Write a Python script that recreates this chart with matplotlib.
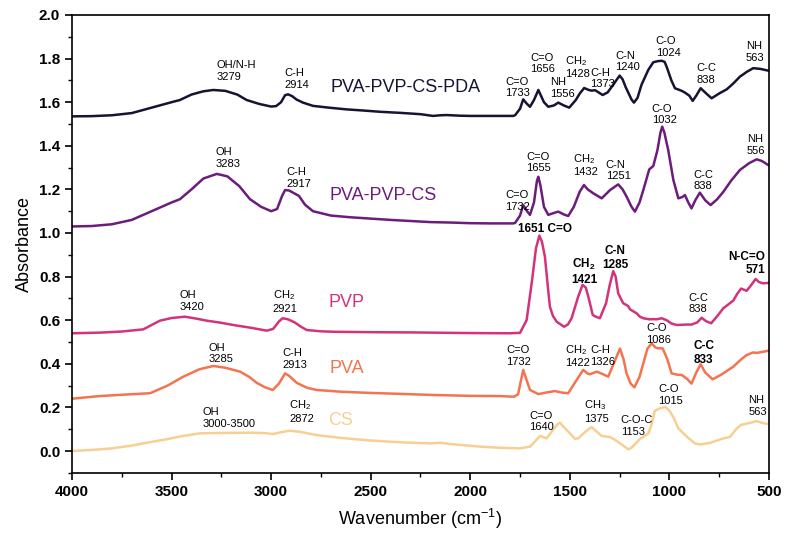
import matplotlib
matplotlib.use('Agg')
import matplotlib.pyplot as plt
from matplotlib.ticker import MultipleLocator, FormatStrFormatter

plt.rcParams['font.family'] = ['Liberation Sans', 'DejaVu Sans']
plt.rcParams['mathtext.fontset'] = 'custom'
plt.rcParams['mathtext.rm'] = 'Liberation Sans'
plt.rcParams['mathtext.it'] = 'Liberation Sans:italic'
plt.rcParams['mathtext.bf'] = 'Liberation Sans:bold'

# ---------------- data (wavenumber cm-1, absorbance) ----------------
wn_pda = [4000, 3900, 3800, 3700, 3600, 3500, 3458, 3400, 3340, 3290, 3230, 3170, 3123, 3060,
          3000, 2975, 2950, 2930, 2915, 2895, 2872, 2840, 2789, 2700, 2621, 2540, 2453, 2350,
          2250, 2187, 2150, 2118, 2050, 2000, 1900, 1785, 1775, 1750, 1734, 1718, 1700, 1680,
          1658, 1630, 1608, 1580, 1558, 1530, 1503, 1470, 1450, 1428, 1405, 1390, 1373, 1335,
          1310, 1290, 1250, 1235, 1220, 1190, 1178, 1160, 1140, 1106, 1081, 1060, 1039, 1024,
          1014, 990, 972, 938, 922, 900, 883, 865, 843, 815, 788, 750, 712, 680, 646, 610, 579,
          545, 505, 500]
abs_pda = [1.535, 1.536, 1.540, 1.550, 1.575, 1.600, 1.610, 1.635, 1.650, 1.656, 1.652, 1.635,
           1.610, 1.592, 1.580, 1.582, 1.600, 1.632, 1.636, 1.628, 1.612, 1.598, 1.583, 1.574,
           1.567, 1.562, 1.556, 1.551, 1.545, 1.537, 1.540, 1.541, 1.538, 1.537, 1.537, 1.537,
           1.540, 1.570, 1.613, 1.595, 1.579, 1.610, 1.656, 1.600, 1.579, 1.585, 1.598, 1.585,
           1.575, 1.610, 1.640, 1.665, 1.656, 1.653, 1.655, 1.633, 1.645, 1.670, 1.722, 1.705,
           1.670, 1.612, 1.598, 1.620, 1.680, 1.748, 1.783, 1.788, 1.790, 1.785, 1.763, 1.700,
           1.664, 1.652, 1.644, 1.630, 1.606, 1.630, 1.664, 1.640, 1.618, 1.640, 1.659, 1.685,
           1.717, 1.740, 1.756, 1.753, 1.745, 1.744]

wn_ppc = [4000, 3900, 3800, 3700, 3600, 3500, 3458, 3400, 3340, 3273, 3220, 3160, 3106, 3050,
          3000, 2970, 2945, 2930, 2910, 2880, 2860, 2830, 2790, 2700, 2600, 2500, 2400, 2300,
          2200, 2100, 2000, 1900, 1785, 1775, 1750, 1734, 1715, 1700, 1680, 1665, 1658, 1648,
          1630, 1608, 1580, 1558, 1530, 1508, 1480, 1450, 1429, 1410, 1382, 1340, 1298, 1257,
          1235, 1215, 1190, 1173, 1150, 1131, 1101, 1081, 1060, 1045, 1036, 1025, 1006, 980,
          955, 935, 922, 905, 889, 870, 847, 820, 793, 760, 729, 690, 646, 600, 562, 535, 504, 500]
abs_ppc = [1.030, 1.032, 1.040, 1.060, 1.100, 1.140, 1.155, 1.200, 1.250, 1.271, 1.260, 1.215,
           1.155, 1.120, 1.100, 1.110, 1.170, 1.197, 1.195, 1.180, 1.170, 1.130, 1.100, 1.080,
           1.072, 1.066, 1.060, 1.055, 1.050, 1.048, 1.045, 1.044, 1.044, 1.046, 1.080, 1.128,
           1.100, 1.083, 1.140, 1.240, 1.258, 1.220, 1.120, 1.083, 1.092, 1.098, 1.085, 1.078,
           1.120, 1.190, 1.220, 1.200, 1.182, 1.159, 1.197, 1.223, 1.200, 1.167, 1.120, 1.098,
           1.140, 1.197, 1.292, 1.307, 1.380, 1.460, 1.488, 1.460, 1.381, 1.243, 1.159, 1.165,
           1.174, 1.140, 1.113, 1.150, 1.185, 1.150, 1.128, 1.155, 1.189, 1.240, 1.289, 1.320,
           1.338, 1.330, 1.312, 1.310]

wn_pvp = [4000, 3860, 3750, 3642, 3558, 3500, 3433, 3380, 3324, 3250, 3190, 3100, 3022, 2990,
          2960, 2942, 2915, 2880, 2850, 2821, 2750, 2688, 2500, 2300, 2100, 2000, 1800, 1750,
          1717, 1690, 1670, 1653, 1640, 1625, 1610, 1600, 1585, 1566, 1529, 1510, 1491, 1458,
          1436, 1420, 1407, 1385, 1369, 1349, 1318, 1300, 1282, 1270, 1257, 1232, 1207, 1198,
          1165, 1148, 1131, 1100, 1081, 1064, 1039, 1014, 990, 964, 913, 889, 860, 838, 815,
          790, 755, 729, 679, 660, 640, 612, 590, 567, 550, 529, 504, 500]
abs_pvp = [0.540, 0.543, 0.548, 0.558, 0.598, 0.610, 0.616, 0.608, 0.598, 0.588, 0.578, 0.565,
           0.552, 0.560, 0.595, 0.609, 0.604, 0.589, 0.570, 0.555, 0.549, 0.547, 0.545, 0.544,
           0.542, 0.541, 0.540, 0.542, 0.600, 0.780, 0.930, 0.988, 0.960, 0.891, 0.750, 0.662,
           0.620, 0.593, 0.570, 0.580, 0.609, 0.708, 0.762, 0.750, 0.708, 0.624, 0.616, 0.609,
           0.678, 0.760, 0.825, 0.800, 0.723, 0.678, 0.665, 0.650, 0.632, 0.616, 0.609, 0.604,
           0.605, 0.604, 0.609, 0.600, 0.585, 0.578, 0.580, 0.580, 0.590, 0.611, 0.595, 0.586,
           0.624, 0.655, 0.690, 0.720, 0.745, 0.735, 0.760, 0.789, 0.775, 0.769, 0.771, 0.770]

wn_pva = [4000, 3860, 3750, 3608, 3520, 3441, 3360, 3290, 3230, 3156, 3110, 3073, 3030, 2992,
          2960, 2930, 2910, 2872, 2820, 2771, 2650, 2520, 2350, 2186, 2000, 1851, 1780, 1760,
          1734, 1715, 1700, 1658, 1620, 1575, 1540, 1508, 1470, 1433, 1410, 1399, 1365, 1340,
          1307, 1280, 1248, 1230, 1215, 1195, 1176, 1150, 1131, 1110, 1089, 1070, 1056, 1034,
          1010, 989, 960, 938, 910, 889, 865, 843, 820, 783, 740, 679, 640, 612, 580, 562, 530,
          504, 500]
abs_pva = [0.240, 0.252, 0.258, 0.265, 0.300, 0.341, 0.375, 0.390, 0.382, 0.364, 0.340, 0.313,
           0.292, 0.280, 0.310, 0.356, 0.345, 0.313, 0.290, 0.280, 0.272, 0.267, 0.262, 0.257,
           0.253, 0.252, 0.249, 0.260, 0.372, 0.320, 0.280, 0.261, 0.268, 0.275, 0.268, 0.265,
           0.320, 0.372, 0.355, 0.352, 0.364, 0.355, 0.341, 0.400, 0.470, 0.420, 0.356, 0.310,
           0.292, 0.340, 0.402, 0.470, 0.494, 0.475, 0.471, 0.471, 0.420, 0.356, 0.350, 0.349,
           0.330, 0.309, 0.360, 0.398, 0.360, 0.329, 0.350, 0.387, 0.420, 0.440, 0.452, 0.450,
           0.455, 0.460, 0.460]

wn_cs = [4000, 3900, 3800, 3700, 3600, 3524, 3450, 3357, 3250, 3106, 3030, 2990, 2940, 2905,
         2855, 2771, 2650, 2500, 2350, 2200, 2150, 2100, 2000, 1951, 1850, 1750, 1700, 1684,
         1650, 1617, 1590, 1560, 1550, 1530, 1508, 1474, 1458, 1420, 1391, 1360, 1340, 1298,
         1270, 1248, 1207, 1190, 1148, 1106, 1090, 1073, 1050, 1020, 1000, 980, 955, 913, 872,
         847, 796, 740, 696, 660, 640, 600, 562, 530, 504, 500]
abs_cs = [0.000, 0.005, 0.012, 0.025, 0.042, 0.054, 0.068, 0.081, 0.083, 0.084, 0.082, 0.078,
          0.088, 0.093, 0.088, 0.073, 0.060, 0.048, 0.040, 0.035, 0.038, 0.032, 0.024, 0.020,
          0.015, 0.012, 0.020, 0.035, 0.069, 0.058, 0.090, 0.124, 0.130, 0.110, 0.089, 0.056,
          0.058, 0.090, 0.110, 0.085, 0.069, 0.064, 0.050, 0.035, 0.008, 0.015, 0.055, 0.080,
          0.120, 0.185, 0.195, 0.202, 0.185, 0.155, 0.104, 0.066, 0.035, 0.030, 0.037, 0.055,
          0.065, 0.105, 0.120, 0.128, 0.137, 0.128, 0.124, 0.123]

series_labels = ['PVA-PVP-CS-PDA', 'PVA-PVP-CS', 'PVP', 'PVA', 'CS']
series_colors = ['#151533', '#6b1c7c', '#d2337a', '#f3744f', '#f8cf93']

# peak annotations: (text, wavenumber, absorbance, ha, bold)
peak_labels = [
    ('OH/N-H\n3279', 3272, 1.743, 'left', False),
    ('C-H\n2914', 2935, 1.706, 'left', False),
    ('C=O\n1733', 1826, 1.667, 'left', False),
    ('C=O\n1656', 1700, 1.778, 'left', False),
    ('NH\n1556', 1600, 1.665, 'left', False),
    ('CH$_\\mathregular{2}$\n1428', 1524, 1.764, 'left', False),
    ('C-H\n1373', 1399, 1.708, 'left', False),
    ('C-N\n1240', 1273, 1.787, 'left', False),
    ('C-O\n1024', 1069, 1.853, 'left', False),
    ('C-C\n838', 863, 1.729, 'left', False),
    ('NH\n563', 616, 1.830, 'left', False),
    ('OH\n3283', 3277, 1.344, 'left', False),
    ('C-H\n2917', 2925, 1.252, 'left', False),
    ('C-O\n1032', 1089, 1.544, 'left', False),
    ('NH\n556', 612, 1.404, 'left', False),
    ('C=O\n1655', 1720, 1.322, 'left', False),
    ('CH$_\\mathregular{2}$\n1432', 1483, 1.314, 'left', False),
    ('C-N\n1251', 1319, 1.287, 'left', False),
    ('C-C\n838', 880, 1.241, 'left', False),
    ('C=O\n1732', 1826, 1.147, 'left', False),
    ('1651 C=O', 1626, 1.018, 'center', True),
    ('CH$_\\mathbf{2}$\n1421', 1429, 0.823, 'center', True),
    ('C-N\n1285', 1272, 0.885, 'center', True),
    ('N-C=O\n571', 520, 0.860, 'right', True),
    ('C-C\n838', 905, 0.677, 'left', False),
    ('OH\n3420', 3461, 0.688, 'left', False),
    ('CH$_\\mathregular{2}$\n2921', 2992, 0.688, 'left', False),
    ('OH\n3285', 3316, 0.447, 'left', False),
    ('C-H\n2913', 2942, 0.422, 'left', False),
    ('C=O\n1732', 1821, 0.436, 'left', False),
    ('CH$_\\mathregular{2}$\n1422', 1524, 0.436, 'left', False),
    ('C-H\n1326', 1396, 0.436, 'left', False),
    ('C-O\n1086', 1118, 0.537, 'left', False),
    ('C-C\n833', 880, 0.450, 'left', True),
    ('OH\n3000-3500', 3344, 0.151, 'left', False),
    ('CH$_\\mathregular{2}$\n2872', 2909, 0.183, 'left', False),
    ('C=O\n1640', 1704, 0.136, 'left', False),
    ('CH$_\\mathregular{3}$\n1375', 1429, 0.183, 'left', False),
    ('C-O-C\n1153', 1245, 0.115, 'left', False),
    ('C-O\n1015', 1056, 0.257, 'left', False),
    ('NH\n563', 604, 0.206, 'left', False),
]

# series name positions (wavenumber, absorbance)
name_pos = [(2325, 1.667), (2438, 1.170), (2621, 0.681), (2619, 0.378), (2649, 0.142)]

# ---------------- plot ----------------
fig = plt.figure(figsize=(7.92, 5.39), dpi=100)
ax = fig.add_axes([0.0909, 0.1228, 0.880, 0.8494])

curves = [(wn_pda, abs_pda), (wn_ppc, abs_ppc), (wn_pvp, abs_pvp), (wn_pva, abs_pva), (wn_cs, abs_cs)]
for (x, y), c in zip(curves, series_colors):
    ax.plot(x, y, color=c, lw=1.8, solid_joinstyle='round', solid_capstyle='round')

for name, (x, y), c in zip(series_labels, name_pos, series_colors):
    ax.text(x, y, name, color=c, fontsize=13, ha='center', va='center')

for txt, x, y, ha, bold in peak_labels:
    ax.text(x, y, txt, fontsize=8.5 if bold else 8, fontweight='bold' if bold else 'normal',
            ha=ha, va='center', multialignment=ha, linespacing=1.15, color='black')

ax.set_xlim(4000, 500)
ax.set_ylim(-0.1, 2.0)
ax.xaxis.set_major_locator(MultipleLocator(500))
ax.xaxis.set_minor_locator(MultipleLocator(250))
ax.yaxis.set_major_locator(MultipleLocator(0.2))
ax.yaxis.set_minor_locator(MultipleLocator(0.1))
ax.yaxis.set_major_formatter(FormatStrFormatter('%.1f'))
ax.tick_params(which='major', direction='out', length=5, width=1.2, labelsize=11)
ax.tick_params(which='minor', direction='out', length=3, width=1.0)
ax.tick_params(top=False, right=False, which='both')
for lbl in ax.get_xticklabels() + ax.get_yticklabels():
    lbl.set_fontweight('bold')
for sp in ax.spines.values():
    sp.set_linewidth(1.2)

ax.set_xlabel('Wavenumber (cm$^{\\mathregular{-1}}$)', fontsize=13, labelpad=6)
ax.set_ylabel('Absorbance', fontsize=13)

fig.savefig('out.png', dpi=100)
